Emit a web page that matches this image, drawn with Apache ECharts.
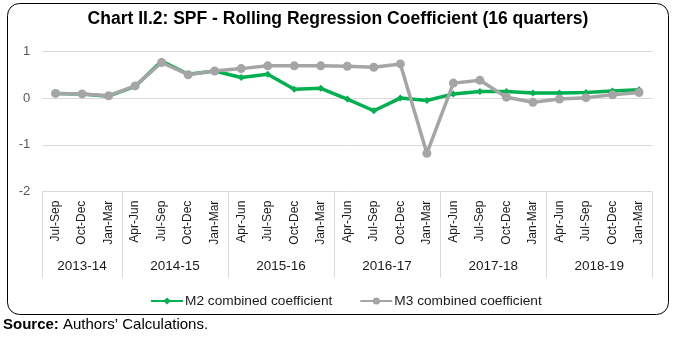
<!DOCTYPE html>
<html>
<head>
<meta charset="utf-8">
<script src="https://cdn.jsdelivr.net/npm/echarts@6/dist/echarts.min.js"></script>
<style>
  html, body { margin: 0; padding: 0; background: #fff; }
  #chart { width: 676px; height: 337px; }
</style>
</head>
<body>
<div id="chart"></div>
<script>
// Quarter labels along the x axis
const quarters = [
  'Jul-Sep', 'Oct-Dec', 'Jan-Mar',
  'Apr-Jun', 'Jul-Sep', 'Oct-Dec', 'Jan-Mar',
  'Apr-Jun', 'Jul-Sep', 'Oct-Dec', 'Jan-Mar',
  'Apr-Jun', 'Jul-Sep', 'Oct-Dec', 'Jan-Mar',
  'Apr-Jun', 'Jul-Sep', 'Oct-Dec', 'Jan-Mar',
  'Apr-Jun', 'Jul-Sep', 'Oct-Dec', 'Jan-Mar'
];
// Financial years and how many quarters each covers
const years = ['2013-14', '2014-15', '2015-16', '2016-17', '2017-18', '2018-19'];
const yearQuarterCounts = [3, 4, 4, 4, 4, 4];

// Rolling regression coefficients
const m2Coefficient = [0.10, 0.09, 0.04, 0.25, 0.79, 0.51, 0.58, 0.44, 0.51, 0.19, 0.21,
  -0.02, -0.27, 0.00, -0.05, 0.09, 0.14, 0.14, 0.11, 0.11, 0.12, 0.15, 0.18];
const m3Coefficient = [0.10, 0.09, 0.05, 0.26, 0.76, 0.50, 0.58, 0.63, 0.69, 0.69, 0.69,
  0.68, 0.66, 0.73, -1.18, 0.32, 0.38, 0.02, -0.09, -0.02, 0.01, 0.07, 0.12];

// Y axis ticks
const yTicks = [-2, -1, 0, 1];

// Year group boundaries and centres, in quarter units
const yearBounds = [0];
yearQuarterCounts.forEach(n => yearBounds.push(yearBounds[yearBounds.length - 1] + n));
const yearCentres = years.map((_, i) => (yearBounds[i] + yearBounds[i + 1]) / 2);

const FONT = '"Liberation Sans", Arial, sans-serif';
const GRID_COLOR = '#d9d9d9';

const chart = echarts.init(document.getElementById('chart'), null, { renderer: 'canvas' });

chart.setOption({
  animation: false,
  backgroundColor: '#ffffff',
  textStyle: { fontFamily: FONT },
  title: {
    text: 'Chart II.2: SPF - Rolling Regression Coefficient (16 quarters)',
    left: 'center',
    top: 5,
    textStyle: { fontFamily: FONT, fontSize: 17.5, fontWeight: 'bold', color: '#000' }
  },
  legend: {
    top: 289,
    left: 145,
    itemWidth: 32,
    itemHeight: 9,
    itemGap: 27,
    textStyle: { fontFamily: FONT, fontSize: 13.7, color: '#1a1a1a', padding: [0, 0, 0, -3] },
    data: ['M2 combined coefficient', 'M3 combined coefficient']
  },
  grid: { left: 42.3, right: 23.7, top: 51.3, bottom: 145.3, containLabel: false },
  xAxis: [
    {
      type: 'category',
      data: quarters,
      boundaryGap: true,
      axisLine: { show: true, lineStyle: { color: GRID_COLOR, width: 1 } },
      axisTick: { show: false },
      axisLabel: {
        rotate: 90,
        interval: 0,
        margin: 9,
        fontFamily: FONT,
        fontSize: 12,
        color: '#1a1a1a'
      }
    },
    {
      type: 'value',
      min: 0,
      max: yearBounds[yearBounds.length - 1],
      position: 'bottom',
      axisLine: { show: false },
      splitLine: { show: false },
      axisTick: {
        show: true,
        length: 86,
        customValues: yearBounds,
        lineStyle: { color: GRID_COLOR, width: 1 }
      },
      axisLabel: {
        customValues: yearCentres,
        margin: 68,
        fontFamily: FONT,
        fontSize: 13.5,
        color: '#1a1a1a',
        formatter: v => years[yearCentres.indexOf(v)] || ''
      }
    }
  ],
  yAxis: {
    type: 'value',
    min: yTicks[0],
    max: yTicks[yTicks.length - 1],
    interval: 1,
    axisLine: { show: false },
    axisTick: { show: false },
    splitLine: { lineStyle: { color: GRID_COLOR, width: 1 } },
    axisLabel: { margin: 12, fontFamily: FONT, fontSize: 13, color: '#595959' }
  },
  series: [
    {
      name: 'M2 combined coefficient',
      type: 'line',
      data: m2Coefficient,
      xAxisIndex: 0,
      symbol: 'diamond',
      symbolSize: 7,
      lineStyle: { color: '#00b050', width: 3.5 },
      itemStyle: { color: '#00b050' },
      z: 2
    },
    {
      name: 'M3 combined coefficient',
      type: 'line',
      data: m3Coefficient,
      xAxisIndex: 0,
      symbol: 'circle',
      symbolSize: 9,
      lineStyle: { color: '#a5a5a5', width: 3.5 },
      itemStyle: { color: '#a5a5a5' },
      z: 3
    }
  ],
  graphic: [
    {
      type: 'rect',
      shape: { x: 7.5, y: 3.5, width: 661, height: 311, r: 12 },
      style: { fill: 'none', stroke: '#000', lineWidth: 1 },
      silent: true,
      z: -1
    },
    {
      type: 'text',
      left: 3,
      top: 317,
      style: {
        text: '{b|Source:} Authors\u2019 Calculations.',
        font: '15px ' + FONT,
        fill: '#000',
        rich: {
          b: { fontFamily: FONT, fontSize: 15, fontWeight: 'bold', fill: '#000' }
        }
      }
    }
  ]
});
</script>
</body>
</html>
